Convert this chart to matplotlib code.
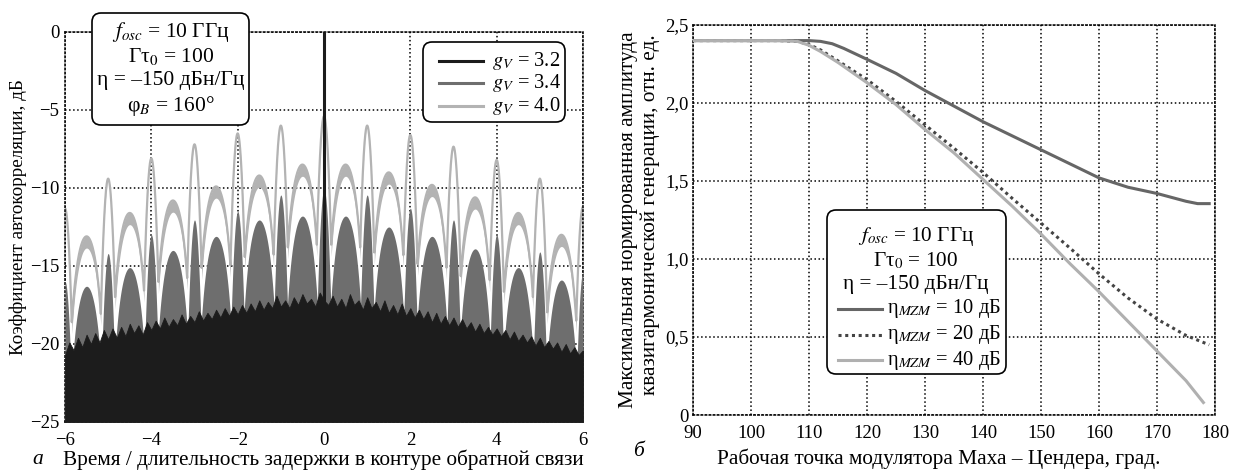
import numpy as np
import matplotlib
matplotlib.use("Agg")
import matplotlib.pyplot as plt
from matplotlib.patches import FancyBboxPatch
from matplotlib.lines import Line2D

plt.rcParams['font.family'] = ['Liberation Serif', 'DejaVu Serif']
plt.rcParams['mathtext.fontset'] = 'stix'

# ---------------- data: left panel (autocorrelation, dB) ----------------
narrow_pos = [-6, -5, -4, -3, -2, -1, 0, 1, 2, 3, 4, 5, 6]
broad_pos = [-5.5, -4.5, -3.5, -2.5, -1.5, -0.5, 0.5, 1.5, 2.5, 3.5, 4.5, 5.5]
# g_V = 4.0 lobe peaks
gv40_narrow = [-11.3, -9.4, -8.1, -7.2, -6.5, -6.0, -5.4, -6.0, -6.6, -7.35, -8.2, -9.4, -11.2]
gv40_broad = [-13.1, -11.6, -10.8, -9.9, -9.2, -8.5, -8.5, -9.0, -9.8, -10.6, -11.6, -13.0]
# g_V = 3.4 lobe peaks
gv34_narrow = [-16.0, -14.2, -13.0, -12.05, -11.5, -10.45, -10.1, -10.45, -11.3, -12.05, -13.0, -14.1, -15.4]
gv34_broad = [-16.3, -15.1, -14.0, -13.1, -12.05, -11.8, -11.8, -12.5, -13.1, -13.9, -15.1, -15.9]
# g_V = 3.2 noise floor top (x from -6 to 6, step 0.1) and central spike
gv32_top = [
    -20.7, -19.9, -20.4, -19.6, -20.2, -19.4, -20.0, -19.3, -19.9, -19.1, -19.7,
    -19.0, -19.6, -18.9, -19.5, -18.7, -19.3, -18.8, -19.4, -18.6, -19.1,
    -18.5, -19.0, -18.3, -18.9, -18.4, -18.8, -18.1, -18.7, -18.2, -18.6,
    -17.9, -18.5, -18.0, -18.4, -17.8, -18.3, -17.7, -18.2, -17.6, -18.1,
    -17.5, -18.0, -17.4, -17.9, -17.2, -17.8, -17.3, -17.7, -16.9, -17.6,
    -17.2, -17.7, -17.0, -17.5, -16.8, -17.4, -17.1, -17.6, -16.7, -17.2,
    -17.5, -16.9, -17.6, -17.1, -17.7, -16.8, -17.5, -17.2, -17.8, -17.0,
    -17.7, -17.3, -17.9, -17.2, -18.0, -17.5, -18.1, -17.4, -18.2, -17.7,
    -18.3, -17.8, -18.4, -17.9, -18.6, -18.0, -18.7, -18.2, -18.8, -18.3,
    -18.9, -18.4, -19.0, -18.6, -19.2, -18.7, -19.3, -18.9, -19.4, -19.0,
    -19.5, -19.1, -19.7, -19.2, -19.8, -19.4, -19.9, -19.5, -20.1, -19.6,
    -20.2, -19.8, -20.3, -19.9, -20.5, -20.0, -20.6, -20.2, -20.7, -20.4,
]
gv32_spike_x = [0.0]
gv32_spike_top = [0.0]
left_xticks = [-6, -4, -2, 0, 2, 4, 6]
left_xticklabels = ['−6', '−4', '−2', '0', '2', '4', '6']
left_yticks = [-25, -20, -15, -10, -5, 0]
left_yticklabels = ['−25', '−20', '−15', '−10', '−5', '0']
left_series_labels = ['$g_V$ = 3.2', '$g_V$ = 3.4', '$g_V$ = 4.0']

# ---------------- data: right panel ----------------
phi_10 = [90, 100, 110, 112, 114, 116, 120, 125, 130, 135, 140, 145, 150, 155, 160, 165, 170, 175, 177, 179]
amp_10 = [2.40, 2.40, 2.40, 2.395, 2.38, 2.35, 2.28, 2.19, 2.08, 1.98, 1.88, 1.79, 1.70, 1.61, 1.52, 1.46, 1.42, 1.37, 1.355, 1.355]
phi_20 = [90, 100, 105, 108, 110, 112, 115, 120, 125, 130, 135, 140, 145, 150, 155, 160, 165, 170, 175, 179]
amp_20 = [2.40, 2.40, 2.40, 2.395, 2.375, 2.34, 2.27, 2.15, 2.01, 1.86, 1.71, 1.555, 1.39, 1.23, 1.07, 0.905, 0.75, 0.615, 0.51, 0.45]
phi_40 = [90, 100, 105, 108, 110, 112, 115, 120, 125, 130, 135, 140, 145, 150, 155, 160, 165, 170, 175, 178]
amp_40 = [2.40, 2.40, 2.40, 2.395, 2.37, 2.33, 2.26, 2.13, 1.99, 1.83, 1.68, 1.51, 1.34, 1.16, 0.97, 0.79, 0.60, 0.41, 0.22, 0.08]
right_xticks = [90, 100, 110, 120, 130, 140, 150, 160, 170, 180]
right_yticks = [0, 0.5, 1.0, 1.5, 2.0, 2.5]
right_yticklabels = ['0', '0,5', '1,0', '1,5', '2,0', '2,5']
right_series_labels = ['η$_{MZM}$ = 10 дБ', 'η$_{MZM}$ = 20 дБ', 'η$_{MZM}$ = 40 дБ']

C_LIGHT = '#b3b3b3'
C_DARK = '#6e6e6e'
C_BLACK = '#1c1c1c'
C_R10 = '#666666'
C_R20 = '#444444'
C_R40 = '#b0b0b0'

W, H = 1238, 470
fig = plt.figure(figsize=(W / 100, H / 100), dpi=100)


def ax_rect(x0, y0, x1, y1):
    return [x0 / W, (H - y1) / H, (x1 - x0) / W, (y1 - y0) / H]


def inch(x, y):
    return (x / 100.0, (H - y) / 100.0)


axL = fig.add_axes(ax_rect(65, 32, 583, 422))
axR = fig.add_axes(ax_rect(693, 25, 1215, 415))

for ax in (axL, axR):
    ax.set_axisbelow(True)
    ax.grid(True, ls=':', color='black', lw=1.1)
    for s in ax.spines.values():
        s.set_linestyle(':')
        s.set_linewidth(1.1)
        s.set_color('black')
    ax.tick_params(length=0, labelsize=13.5)

# ---------------- left panel drawing ----------------
x = np.linspace(-6, 6, 6001)


def lobe_curve(nvals, bvals):
    best = np.full_like(x, -60.0)
    kind = np.zeros_like(x)
    for c, p in zip(narrow_pos, nvals):
        yy = p - 300.0 * (x - c) ** 2
        m = yy > best
        best[m] = yy[m]
        kind[m] = 0
    for c, p in zip(broad_pos, bvals):
        u = (x - c) / 0.5
        yy = p + 20 * np.log10(np.clip(1 - u ** 2, 1e-3, None))
        m = yy > best
        best[m] = yy[m]
        kind[m] = 1
    return best, kind


y40, k40 = lobe_curve(gv40_narrow, gv40_broad)
band = np.where(k40 == 1, 0.75, 0.12)
axL.fill_between(x, y40 - band, y40, color=C_LIGHT, lw=0, zorder=2)
axL.plot(x, y40, color=C_LIGHT, lw=1.6, zorder=2)

y34, k34 = lobe_curve(gv34_narrow, gv34_broad)
axL.fill_between(x, -25, y34, color=C_DARK, lw=0, zorder=3)

xb = np.linspace(-6, 6, len(gv32_top))
axL.fill_between(xb, -25, gv32_top, color=C_BLACK, lw=0.6, edgecolor=C_BLACK, zorder=4)
axL.vlines(gv32_spike_x, -25, gv32_spike_top, color=C_BLACK, lw=2.2, zorder=5)

axL.set_xlim(-6, 6)
axL.set_ylim(-25, 0)
axL.set_xticks(left_xticks)
axL.set_xticklabels(left_xticklabels)
axL.set_yticks(left_yticks)
axL.set_yticklabels(left_yticklabels)
axL.tick_params(axis='x', pad=7)
axL.tick_params(axis='y', pad=4)

# ---------------- right panel drawing ----------------
axR.plot(phi_10, amp_10, color=C_R10, lw=2.2, zorder=3)
axR.plot(phi_20, amp_20, color=C_R20, lw=2.2, ls=(0, (1, 1.2)), zorder=3)
axR.plot(phi_40, amp_40, color=C_R40, lw=2.2, zorder=3)
axR.set_xlim(90, 180)
axR.set_ylim(0, 2.5)
axR.set_xticks(right_xticks)
axR.set_yticks(right_yticks)
axR.set_yticklabels(right_yticklabels)
axR.tick_params(axis='x', pad=7)
axR.tick_params(axis='y', pad=3)


# ---------------- boxes ----------------
def rbox(x0, y0, x1, y1):
    p = FancyBboxPatch(inch(x0, y1), (x1 - x0) / 100, (y1 - y0) / 100,
                       boxstyle="round,pad=0,rounding_size=0.09",
                       transform=fig.dpi_scale_trans, facecolor='white',
                       edgecolor='black', lw=1.2, zorder=10)
    fig.add_artist(p)


def ftext(xp, yp, s, **kw):
    kw.setdefault('fontsize', 15.3)
    kw.setdefault('ha', 'center')
    kw.setdefault('va', 'center')
    fig.text(*inch(xp, yp), s, transform=fig.dpi_scale_trans, zorder=11, **kw)


def fline(x0, x1, yp, **kw):
    ln = Line2D([x0 / 100, x1 / 100], [(H - yp) / 100] * 2,
                transform=fig.dpi_scale_trans, zorder=11, **kw)
    fig.add_artist(ln)


params = ['$f_{osc}$ = 10 ГГц', 'Γτ$_0$ = 100', 'η = –150 дБн/Гц']

# left parameter box
rbox(92, 13, 249, 125)
for s, yp in zip(params + ['φ$_B$ = 160°'], [32, 56, 81, 106]):
    ftext(171, yp, s, fontsize=15.5)

# left legend
rbox(423, 42, 565, 122)
for lab, col, yp in zip(left_series_labels, [C_BLACK, C_DARK, C_LIGHT], [61, 83, 106]):
    fline(439, 483, yp, color=col, lw=2.2)
    ftext(492, yp, lab, ha='left', fontsize=14.8)

# right legend
rbox(827, 210, 1006, 374)
for s, yp in zip(params, [237, 261, 284]):
    ftext(916, yp, s, fontsize=15.3)
for lab, col, ls, yp in zip(right_series_labels, [C_R10, C_R20, C_R40],
                            ['-', (0, (1, 1.2)), '-'], [309, 335, 360]):
    fline(838, 882, yp, color=col, lw=2.2, ls=ls)
    ftext(887, yp, lab, ha='left', fontsize=14.8)

# ---------------- axis labels ----------------
ftext(18, 217, 'Коэффициент автокорреляции, дБ', rotation=90, fontsize=13.8)
ftext(323, 460, 'Время / длительность задержки в контуре обратной связи')
ftext(38, 459, 'а', style='italic', fontsize=15.5)

ftext(628, 220, 'Максимальная нормированная амплитуда', rotation=90)
ftext(650, 215, 'квазигармонической генерации, отн. ед.', rotation=90)
ftext(939, 459, 'Рабочая точка модулятора Маха – Цендера, град.')
ftext(638, 451, 'б', style='italic', fontsize=15.5)

fig.savefig('out.png', dpi=100)
